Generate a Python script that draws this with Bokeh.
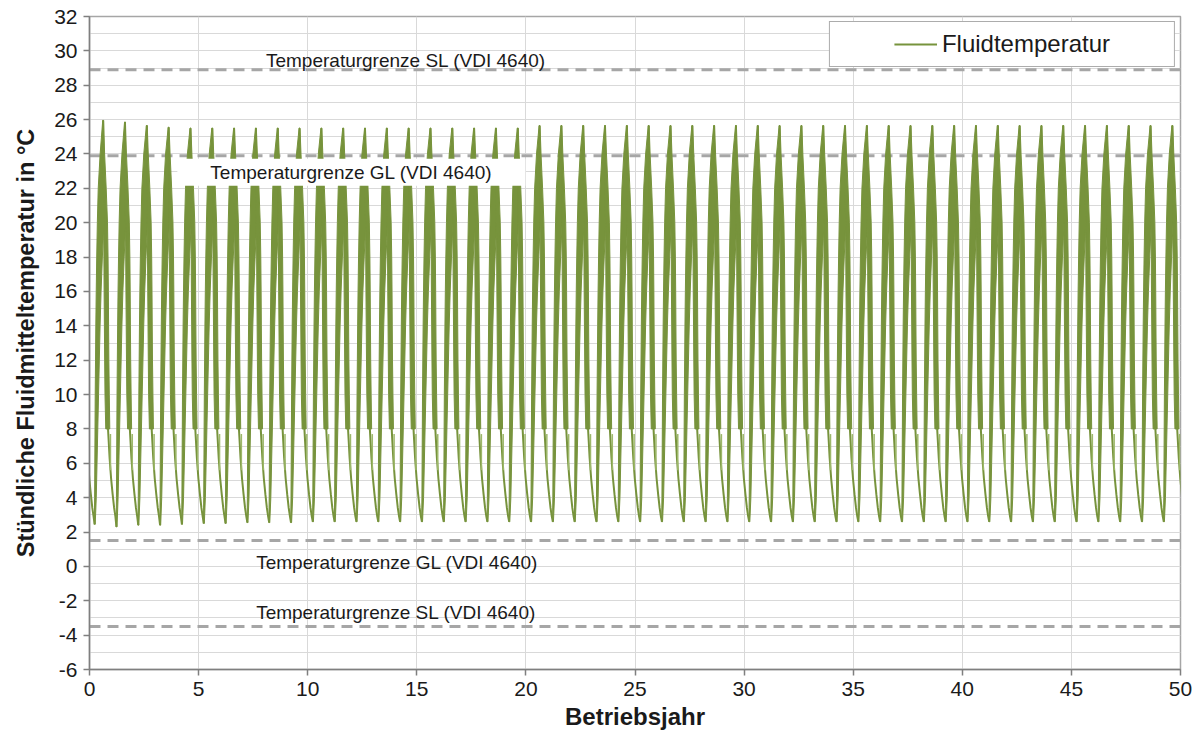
import numpy as np
from bokeh.plotting import figure
from bokeh.models import (Label, Legend, LegendItem, SingleIntervalTicker, Span)
from bokeh.embed import file_html
from bokeh.resources import INLINE

# ---------------- data ----------------
year_start, year_end = 0, 50
temp_min, temp_max = -6, 32
years = list(range(50))

# yearly maximum of the hourly fluid temperature (°C), one per operating year
peak_temp = [25.95, 25.85, 25.65, 25.55, 25.5,
             25.5, 25.5, 25.5, 25.5, 25.5, 25.5, 25.5, 25.5, 25.5, 25.5,
             25.5, 25.5, 25.5, 25.5, 25.5,
             25.65, 25.65, 25.65, 25.65, 25.65, 25.65, 25.65, 25.65, 25.65, 25.65,
             25.65, 25.65, 25.65, 25.65, 25.65, 25.65, 25.65, 25.65, 25.65, 25.65,
             25.65, 25.65, 25.65, 25.65, 25.65, 25.65, 25.65, 25.65, 25.65, 25.65]

# yearly minimum (°C); last entry is the minimum just after year 50
trough_temp = [2.45, 2.3, 2.4, 2.4, 2.45, 2.5, 2.5, 2.55, 2.55, 2.55,
               2.6, 2.6, 2.6, 2.6, 2.6, 2.6, 2.6, 2.6, 2.6, 2.6,
               2.6, 2.6, 2.6, 2.6, 2.6, 2.6, 2.6, 2.6, 2.6, 2.6,
               2.6, 2.6, 2.6, 2.6, 2.6, 2.6, 2.6, 2.6, 2.6, 2.6,
               2.6, 2.6, 2.6, 2.6, 2.6, 2.6, 2.6, 2.6, 2.6, 2.6,
               2.6]

trough_phase = 0.235  # time of the yearly minimum within the year

# rising leg: band between left/right edges, years after the minimum
rise_levels = [4, 6, 8, 10, 12, 14, 16, 18, 20, 22, 24]
rise_left = [-0.014, 0.0, 0.009, 0.018, 0.027, 0.041, 0.055, 0.073, 0.096, 0.124, 0.165, 0.252, 0.371]
rise_right = [0.027, 0.075, 0.11, 0.145, 0.18, 0.215, 0.25, 0.295, 0.355, 0.425, 0.425, 0.415, 0.412]

# falling leg after the maximum: band down to 8 °C
fall_levels = [24, 22, 20, 18, 16, 14, 12, 10, 8]
fall_left = [0.371, 0.394, 0.405, 0.415, 0.425, 0.435, 0.448, 0.46, 0.475, 0.51]
fall_right = [0.412, 0.458, 0.53, 0.59, 0.615, 0.63, 0.64, 0.652, 0.672, 0.695]

# thin descent into each yearly minimum (years before minimum, °C)
desc_offset = [-0.386, -0.313, -0.244, -0.175, -0.106, -0.047, 0.0]
desc_temp = [8.0, 6.3, 5.1, 4.2, 3.4, 2.9]

# short light spike seen before each minimum
spike_offset = -0.275
spike_low, spike_high = 5.6, 7.7

# VDI 4640 limits and their labels
limit_values = [28.9, 23.9, 1.5, -3.5]
limit_texts = ["Temperaturgrenze SL (VDI 4640)", "Temperaturgrenze GL (VDI 4640)",
               "Temperaturgrenze GL (VDI 4640)", "Temperaturgrenze SL (VDI 4640)"]
label_x = [14.5, 12.0, 14.1, 14.05]
label_y = [29.45, 22.93, 0.24, -2.68]
boxed_label = 1

neg_ticks = [-2, -4, -6]

GREEN = "#77933C"
FONT = "Liberation Sans"
TXT = "#1A1A1A"

# ---------------- build geometry from data ----------------
poly_xs, poly_ys = [], []
for i in years:
    t0 = i + trough_phase
    lv = [trough_temp[i]] + rise_levels + [peak_temp[i]]
    poly_xs.append([t0 + d for d in rise_left] + [t0 + d for d in rise_right[::-1]])
    poly_ys.append(lv + lv[::-1])
    lv2 = [peak_temp[i]] + fall_levels
    poly_xs.append([t0 + d for d in fall_left] + [t0 + d for d in fall_right[::-1]])
    poly_ys.append(lv2 + lv2[::-1])

line_xs, line_ys = [], []
sp_x, sp_y0, sp_y1 = [], [], []
for i in range(len(trough_temp)):
    t0 = i + trough_phase
    line_xs.append([t0 + d for d in desc_offset])
    line_ys.append(desc_temp + [trough_temp[i]])
    sp_x.append(t0 + spike_offset)
    sp_y0.append(spike_low)
    sp_y1.append(spike_high)

# ---------------- figure ----------------
p = figure(width=1194, height=739, x_range=(year_start, year_end), y_range=(temp_min, temp_max),
           output_backend="svg", toolbar_location=None,
           min_border_left=89, min_border_right=14, min_border_top=16, min_border_bottom=70,
           background_fill_color="white", border_fill_color="white")
p.outline_line_color = "#A6A6A6"
p.outline_line_width = 1.5

p.xaxis.ticker = SingleIntervalTicker(interval=5, num_minor_ticks=0)
p.yaxis.ticker = SingleIntervalTicker(interval=2, num_minor_ticks=0)
p.xgrid.ticker = SingleIntervalTicker(interval=5)
p.ygrid.ticker = SingleIntervalTicker(interval=1)
for g in (p.xgrid, p.ygrid):
    g.grid_line_color = "#D9D9D9"
    g.grid_line_width = 1

for ax in (p.xaxis, p.yaxis):
    ax.axis_line_color = "#7F7F7F"
    ax.axis_line_width = 1.5
    ax.major_tick_line_color = "#7F7F7F"
    ax.major_tick_line_width = 1.5
    ax.major_tick_out = 6
    ax.major_tick_in = 0
    ax.minor_tick_out = 0
    ax.minor_tick_in = 0
    ax.major_label_text_font = FONT
    ax.major_label_text_font_size = "21px"
    ax.major_label_text_color = TXT
    ax.major_label_standoff = 6
    ax.axis_label_text_font = FONT
    ax.axis_label_text_font_style = "bold"
    ax.axis_label_text_color = TXT
p.yaxis.major_label_overrides = {v: "-" + str(abs(v)) for v in neg_ticks}
p.xaxis.axis_label = "Betriebsjahr"
p.yaxis.axis_label = "Stündliche Fluidmitteltemperatur in °C"
p.xaxis.axis_label_text_font_size = "24px"
p.yaxis.axis_label_text_font_size = "23.5px"
p.xaxis.axis_label_standoff = 4
p.yaxis.axis_label_standoff = 12

for v in limit_values:
    p.add_layout(Span(location=v, dimension="width", line_color="#A6A6A6",
                      line_width=3, line_dash="11 7", level="underlay"))

p.patches(xs=poly_xs, ys=poly_ys, fill_color=GREEN, line_color=GREEN, line_width=1)
desc = p.multi_line(xs=line_xs, ys=line_ys, line_color=GREEN, line_width=2)
p.segment(x0=sp_x, y0=sp_y0, x1=sp_x, y1=sp_y1, line_color="#9DB86A", line_width=1.5)

for k, (t, x, y) in enumerate(zip(limit_texts, label_x, label_y)):
    kw = {}
    if k == boxed_label:
        kw = dict(background_fill_color="white",
                  padding=dict(left=33, right=33, top=3, bottom=3))
    p.add_layout(Label(x=x, y=y, text=t, text_font=FONT, text_font_size="19px",
                       text_color=TXT, text_align="center", text_baseline="middle", **kw))

dummy = p.line(x=[], y=[], line_alpha=0)
legend = Legend(items=[LegendItem(label=" ", renderers=[dummy]),
                       LegendItem(label="Fluidtemperatur", renderers=[desc]),
                       LegendItem(label=" ", renderers=[dummy])],
                orientation="horizontal", location="top_right")
legend.glyph_width = 43
legend.label_standoff = 5
legend.label_width = 8
legend.spacing = 0
legend.padding = 8
legend.margin = 5
legend.label_text_font = FONT
legend.label_text_font_size = "24px"
legend.label_text_color = TXT
legend.border_line_color = "#595959"
legend.border_line_width = 1
legend.background_fill_color = "white"
legend.background_fill_alpha = 1
p.add_layout(legend)

open("out.html", "w").write(file_html(p, INLINE))
